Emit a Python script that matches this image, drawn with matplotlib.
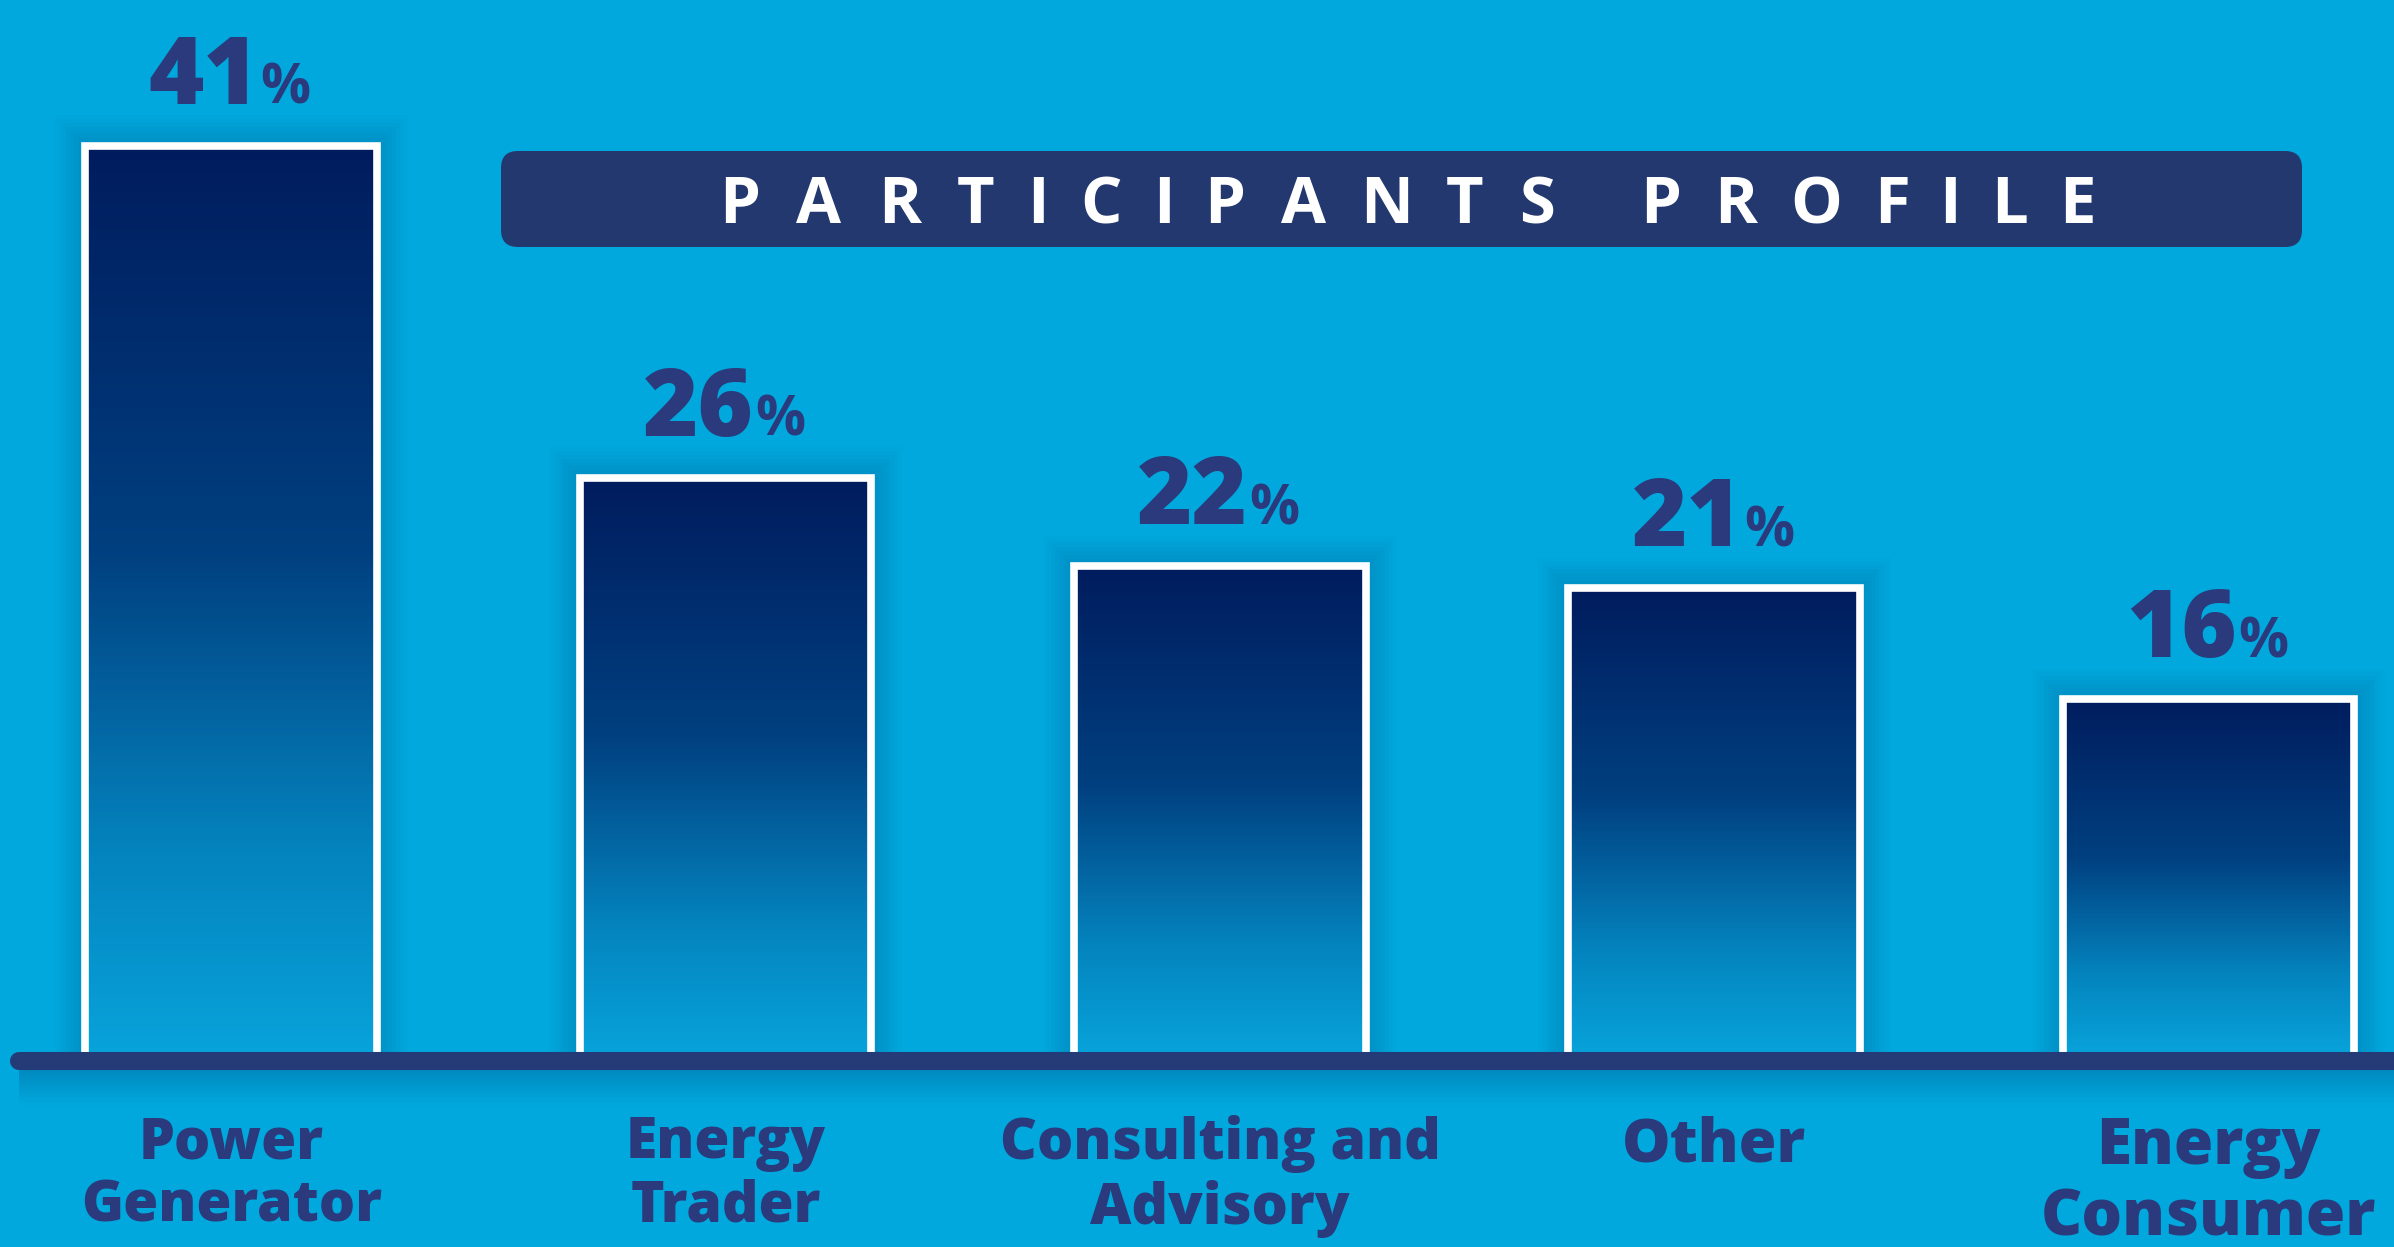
import numpy as np
import matplotlib.pyplot as plt
from matplotlib.patches import Rectangle, FancyBboxPatch
from matplotlib.colors import LinearSegmentedColormap
from matplotlib.textpath import TextPath
from matplotlib.font_manager import FontProperties

# data
categories = ["Power\nGenerator", "Energy\nTrader", "Consulting and\nAdvisory", "Other", "Energy\nConsumer"]
shares = [41, 26, 22, 21, 16]
label_sizes = [41, 41, 41, 44, 46]
title = "PARTICIPANTS PROFILE"

BG = "#00A8DD"
NAVY = "#2A3A7C"
BOX = "#22386F"
FONT = "Open Sans"
plt.rcParams['font.family'] = [FONT, 'DejaVu Sans']

fig = plt.figure(figsize=(23.94, 12.47), dpi=100)
fig.patch.set_facecolor(BG)
ax = fig.add_axes([0, 0, 1, 1])
ax.set_facecolor(BG)
ax.axis('off')

# px per unit (on the 1568 wide preview): 323.8 per bar slot, 14.5 per percent
sx, sy = 323.8, 14.5

cmap = LinearSegmentedColormap.from_list(
    'bar', [(0, '#08A2DA'), (0.22, '#0484BE'), (0.55, '#014080'), (1, '#001C5E')])
grad = np.linspace(0, 1, 256).reshape(-1, 1)
w = 0.59
x = np.arange(len(shares))

for xi, v, cat, fs in zip(x, shares, categories, label_sizes):
    x0, x1 = xi - w / 2, xi + w / 2
    # soft shadow around the bar
    for k in range(1, 9):
        p = 2.5 * k
        ax.add_patch(Rectangle((x0 - p / sx, 0), w + 2 * p / sx, v + p / sy,
                               fc='#003C78', ec='none', alpha=0.028, zorder=1))
    ax.imshow(grad, extent=(x0, x1, 0, v), origin='lower', cmap=cmap,
              aspect='auto', interpolation='bilinear', zorder=2)
    ax.plot([x0, x0, x1, x1], [0, v, v, 0], color='white', lw=5.5,
            solid_joinstyle='miter', zorder=3)

    yb = v + 1.9
    num = ax.text(xi - 0.055, yb, f"{v}", ha='center', va='baseline',
                  fontsize=68, fontweight='heavy', color=NAVY, zorder=5)
    ax.annotate('%', xy=(1, yb), xycoords=(num, 'data'), xytext=(1, 0),
                textcoords='offset points', ha='left', va='baseline',
                fontsize=40, fontweight='bold', color=NAVY, zorder=5)

    ax.text(xi, -2.8, cat, ha='center', va='top', fontsize=fs,
            fontweight='heavy', color=NAVY, linespacing=1.15, zorder=5)

# baseline with a faint shadow beneath
shade = np.linspace(0, 1, 64).reshape(-1, 1)
ax.imshow(shade, extent=(-0.43, 4.6, -2.4, -0.35), origin='lower',
          cmap=LinearSegmentedColormap.from_list('sh', [(0, '#00A8DD'), (1, '#0083B8')]),
          aspect='auto', zorder=1)
ax.plot([-0.43, 4.6], [-0.35, -0.35], lw=13, color='#243B78',
        solid_capstyle='round', zorder=4)

ax.set_xlim(-0.4676, 4.375)
ax.set_ylim(-8.76, 47.59)

# title box
ax.add_patch(FancyBboxPatch((5.01, 10.0), 18.01, 0.96,
                            boxstyle='round,pad=0,rounding_size=0.17',
                            transform=fig.dpi_scale_trans, fc=BOX, ec='none',
                            clip_on=False, zorder=6))

# letter-spaced title
fp = FontProperties(family=FONT, weight='bold', size=47)
gap, space = 40, 92
widths = []
for ch in title:
    if ch == ' ':
        widths.append(None)
    else:
        widths.append(TextPath((0, 0), ch, prop=fp).get_extents().width * 100 / 72)
total = 0
for i, wd in enumerate(widths):
    if wd is None:
        continue
    total += wd
    if i < len(widths) - 1:
        total += space if widths[i + 1] is None else (gap if title[i + 1] != ' ' else 0)
cur = 1407 - total / 2
for i, (ch, wd) in enumerate(zip(title, widths)):
    if wd is None:
        continue
    fig.text((cur + wd / 2) / 100, 10.24, ch, transform=fig.dpi_scale_trans,
             ha='center', va='baseline', fontproperties=fp, color='white', zorder=7)
    cur += wd
    if i < len(title) - 1:
        cur += space if title[i + 1] == ' ' else gap

fig.savefig('out.png', dpi=100, facecolor=BG)
